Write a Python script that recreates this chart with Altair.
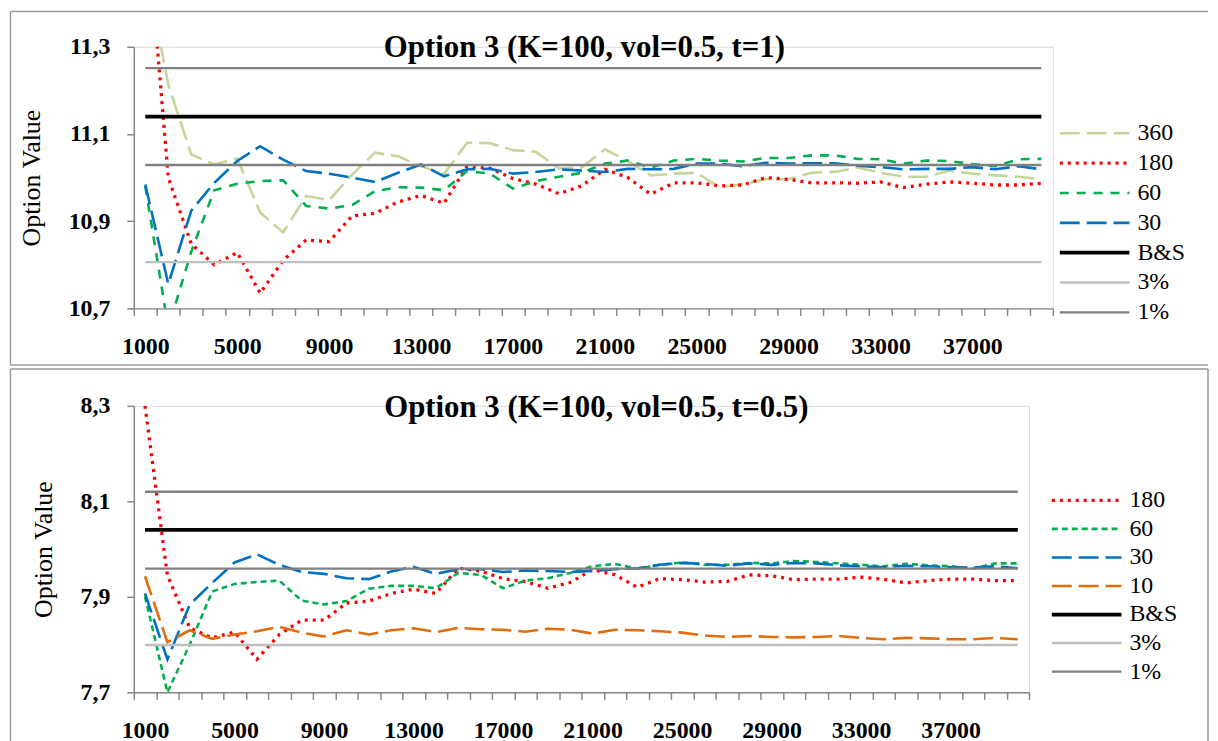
import altair as alt
import pandas as pd

# ---------------- data ----------------
categories = list(range(1000, 40001, 1000))
x_tick_labels = ["1000", "5000", "9000", "13000", "17000", "21000",
                 "25000", "29000", "33000", "37000"]

top_title = "Option 3 (K=100, vol=0.5, t=1)"
bottom_title = "Option 3 (K=100, vol=0.5, t=0.5)"

top_y_ticks = [10.7, 10.9, 11.1, 11.3]
bottom_y_ticks = [7.7, 7.9, 8.1, 8.3]

top_360 = [11.49, 11.213, 11.053, 11.030, 11.044, 10.92, 10.874, 10.958, 10.948, 11.007,
           11.057, 11.049, 11.026, 11.008, 11.080, 11.079, 11.063, 11.059, 11.021, 11.023,
           11.065, 11.038, 11.005, 11.009, 11.011, 10.977, 10.985, 10.996, 10.996, 11.011,
           11.013, 11.023, 11.011, 11.002, 11.002, 11.016, 11.009, 11.005, 11.002, 10.996]
top_180 = [11.63, 11.0, 10.848, 10.80, 10.828, 10.735, 10.81, 10.857, 10.853, 10.912,
           10.918, 10.944, 10.959, 10.941, 11.026, 11.021, 10.998, 10.985, 10.963, 10.981,
           11.019, 11.0, 10.962, 10.988, 10.988, 10.981, 10.983, 11.0, 10.996, 10.988,
           10.988, 10.987, 10.99, 10.977, 10.985, 10.99, 10.987, 10.983, 10.983, 10.987]
top_60 = [10.98, 10.655, 10.83, 10.971, 10.986, 10.992, 10.994, 10.935, 10.929, 10.937,
          10.969, 10.978, 10.977, 10.971, 11.015, 11.009, 10.975, 10.992, 11.002, 11.011,
          11.032, 11.039, 11.023, 11.039, 11.043, 11.039, 11.037, 11.045, 11.045, 11.051,
          11.051, 11.043, 11.042, 11.032, 11.039, 11.038, 11.031, 11.026, 11.042, 11.043]
top_30 = [10.984, 10.756, 10.924, 10.988, 11.038, 11.072, 11.041, 11.015, 11.009, 11.0,
          10.99, 11.011, 11.030, 11.003, 11.019, 11.02, 11.009, 11.013, 11.019, 11.016,
          11.013, 11.02, 11.019, 11.02, 11.032, 11.032, 11.026, 11.034, 11.032, 11.033,
          11.033, 11.027, 11.024, 11.019, 11.02, 11.02, 11.024, 11.019, 11.026, 11.019]
top_bs = 11.14
top_3pct = [10.806]
top_1pct = [11.251, 11.029]

bot_180 = [8.30, 7.945, 7.835, 7.814, 7.826, 7.769, 7.821, 7.851, 7.851, 7.887,
           7.891, 7.907, 7.916, 7.907, 7.960, 7.954, 7.938, 7.932, 7.918, 7.930,
           7.957, 7.946, 7.920, 7.938, 7.936, 7.931, 7.932, 7.946, 7.944, 7.936,
           7.937, 7.937, 7.941, 7.937, 7.929, 7.934, 7.937, 7.937, 7.934, 7.934]
bot_60 = [7.901, 7.70, 7.80, 7.911, 7.927, 7.931, 7.934, 7.892, 7.884, 7.891,
          7.917, 7.923, 7.923, 7.918, 7.950, 7.946, 7.918, 7.934, 7.939, 7.950,
          7.964, 7.969, 7.959, 7.967, 7.972, 7.967, 7.967, 7.971, 7.970, 7.975,
          7.973, 7.970, 7.967, 7.964, 7.969, 7.966, 7.964, 7.959, 7.970, 7.970]
bot_30 = [7.907, 7.769, 7.884, 7.929, 7.972, 7.989, 7.967, 7.952, 7.948, 7.939,
          7.937, 7.953, 7.963, 7.948, 7.958, 7.958, 7.952, 7.955, 7.954, 7.952,
          7.954, 7.958, 7.960, 7.967, 7.971, 7.969, 7.965, 7.970, 7.967, 7.971,
          7.970, 7.966, 7.964, 7.962, 7.965, 7.964, 7.962, 7.961, 7.964, 7.960]
bot_10 = [7.943, 7.805, 7.830, 7.812, 7.821, 7.828, 7.837, 7.825, 7.817, 7.830,
          7.821, 7.830, 7.834, 7.826, 7.835, 7.832, 7.831, 7.827, 7.833, 7.831,
          7.823, 7.831, 7.830, 7.828, 7.825, 7.819, 7.816, 7.818, 7.816, 7.815,
          7.816, 7.818, 7.814, 7.811, 7.814, 7.813, 7.811, 7.811, 7.814, 7.811]
bot_bs = 8.04
bot_3pct = [7.799]
bot_1pct = [8.120, 7.959]

# ---------------- helpers ----------------
FONT = "Liberation Serif"
GRAY = "#868686"
FRAME = "#9A9A9A"


def build(series):
    rows = []
    for name, line_id, values in series:
        for c, v in zip(categories, values):
            rows.append({"N": c, "value": v, "series": name, "line": line_id})
    return pd.DataFrame(rows)


def const(v):
    return [v] * len(categories)


top_df = build([
    ("360", "360", top_360), ("180", "180", top_180), ("60", "60", top_60),
    ("30", "30", top_30), ("B&S", "bs", const(top_bs)),
    ("3%", "3a", const(top_3pct[0])),
    ("1%", "1a", const(top_1pct[0])), ("1%", "1b", const(top_1pct[1])),
])
bot_df = build([
    ("180", "180", bot_180), ("60", "60", bot_60), ("30", "30", bot_30),
    ("10", "10", bot_10), ("B&S", "bs", const(bot_bs)),
    ("3%", "3a", const(bot_3pct[0])),
    ("1%", "1a", const(bot_1pct[0])), ("1%", "1b", const(bot_1pct[1])),
])

boundaries = [c - 500 for c in categories] + [categories[-1] + 500]
label_list = ",".join("'" + s + "'" for s in x_tick_labels)
x_label_expr = ("indexof([" + label_list + "], format(datum.value + 500, 'd')) >= 0 ? "
                "format(datum.value + 500, 'd') : ''")
y_label_expr = "replace(format(datum.value, '.1f'), '.', ',')"

frame_src = pd.DataFrame({"f": [0]})


def frame_rule(x1, x2, y1, y2):
    enc = {"x": alt.value(x1), "y": alt.value(y1)}
    if x2 != x1:
        enc["x2"] = alt.value(x2)
    if y2 != y1:
        enc["y2"] = alt.value(y2)
    return alt.Chart(frame_src).mark_rule(color=FRAME, strokeWidth=1.5).encode(**enc)


def panel(df, order, colors, dashes, widths, title, dx, toff, ydom, yticks, w, h,
          lx, ly, row_pad, frames):
    band = w / len(categories)
    leg = alt.Legend(title=None, orient="none", legendX=lx, legendY=ly,
                     symbolType="M-1,0H13", symbolSize=100, labelOffset=61,
                     labelFont=FONT, labelFontSize=24, labelColor="black",
                     rowPadding=row_pad, labelLimit=0)
    x_axis = alt.Axis(values=boundaries, labelExpr=x_label_expr, labelOffset=band / 2,
                      title=None, grid=False, tickSize=7, tickWidth=1.5, tickColor=GRAY,
                      domainColor=GRAY, domainWidth=1.5, labelFont=FONT, labelFontSize=24,
                      labelFontWeight="bold", labelColor="black", labelPadding=19,
                      labelOverlap=False, labelFlush=False, labelBound=False)
    y_axis = alt.Axis(values=yticks, labelExpr=y_label_expr, title="Option Value",
                      grid=False, tickSize=7, tickWidth=1.5, tickColor=GRAY,
                      domainColor=GRAY, domainWidth=1.5, labelFont=FONT, labelFontSize=24,
                      labelFontWeight="bold", labelColor="black", labelPadding=17,
                      titleFont=FONT, titleFontSize=26, titleFontWeight="normal",
                      titleColor="black", titlePadding=24)
    lines = alt.Chart(df).mark_line(clip=True, strokeCap="butt", strokeJoin="miter").encode(
        x=alt.X("N:Q", scale=alt.Scale(domain=[500, 40500], nice=False, zero=False),
                axis=x_axis),
        y=alt.Y("value:Q", scale=alt.Scale(domain=ydom, nice=False, zero=False),
                axis=y_axis),
        color=alt.Color("series:N", scale=alt.Scale(domain=order, range=colors), legend=leg),
        strokeDash=alt.StrokeDash("series:N",
                                  scale=alt.Scale(type="ordinal", domain=order, range=dashes),
                                  legend=leg),
        strokeWidth=alt.StrokeWidth("series:N",
                                    scale=alt.Scale(type="ordinal", domain=order, range=widths),
                                    legend=leg),
        detail="line:N",
    )
    layers = [frame_rule(*f) for f in frames] + [lines]
    return alt.layer(*layers).properties(
        width=w, height=h,
        title=alt.TitleParams(title, font=FONT, fontSize=31, fontWeight="bold",
                              color="black", anchor="middle", frame="group",
                              baseline="alphabetic", offset=toff, dx=dx),
    )


LONG = [20, 7]
SOLID = [1, 0]
top = panel(
    top_df,
    ["360", "180", "60", "30", "B&S", "3%", "1%"],
    ["#C4D79B", "#FF0000", "#00B050", "#0070C0", "#000000", "#BFBFBF", "#808080"],
    [LONG, [3, 5], [9, 8], LONG, SOLID, SOLID, SOLID],
    [2.6, 3.3, 2.6, 2.6, 3.8, 2.4, 2.4],
    top_title, -9, -77.5, [10.7, 11.3], top_y_ticks, 924, 263, 924, 75, 6,
    frames=[(-124, -124, -35.5, 320), (-124, 1080, -35.5, -35.5), (-124, 1080, 320, 320)],
)
bottom = panel(
    bot_df,
    ["180", "60", "30", "10", "B&S", "3%", "1%"],
    ["#FF0000", "#00B050", "#0070C0", "#E46C0A", "#000000", "#BFBFBF", "#808080"],
    [[3, 5], [6, 4], LONG, LONG, SOLID, SOLID, SOLID],
    [3.3, 2.6, 2.6, 2.6, 3.8, 2.4, 2.4],
    bottom_title, 15, -79.5, [7.7, 8.3], bottom_y_ticks, 900, 288, 916, 83, 4.7,
    frames=[(-124, -124, -37, 340), (-124, 1080, -37, -37), (1080, 1080, -37, 340)],
)

chart = alt.vconcat(top, bottom, spacing=0).resolve_scale(
    color="independent", strokeDash="independent", strokeWidth="independent",
    x="independent", y="independent",
).resolve_legend(
    color="independent", strokeDash="independent", strokeWidth="independent",
).properties(
    padding={"left": 0.5, "top": 0, "right": 0, "bottom": 0},
    background="white",
).configure_view(stroke=None).configure(font=FONT)

chart.save("out.html", embed_options={"renderer": "svg", "actions": False})
